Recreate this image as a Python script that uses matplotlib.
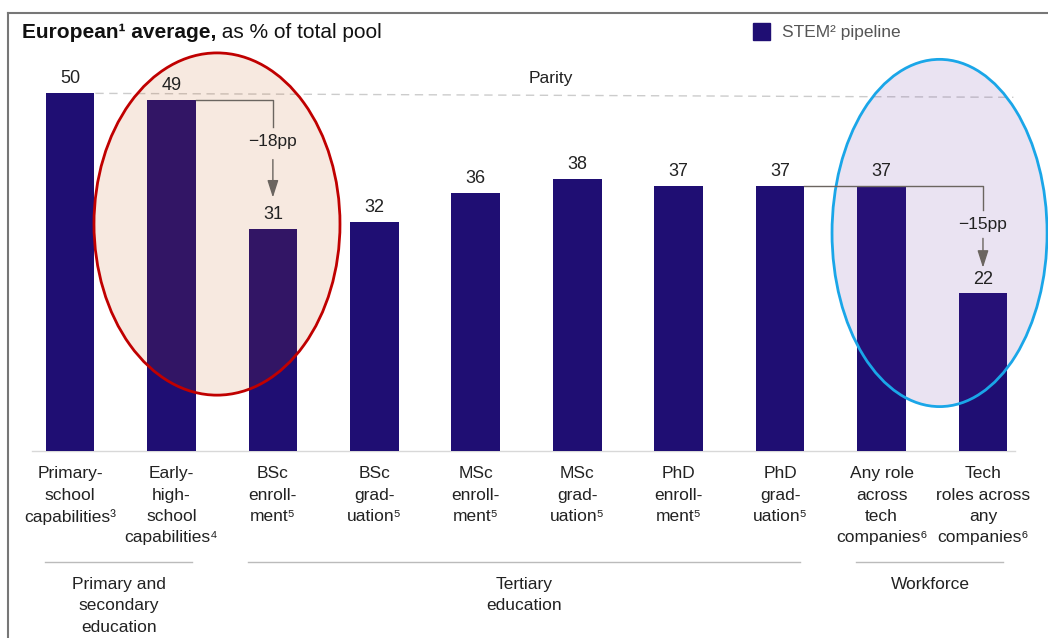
import matplotlib.pyplot as plt
from matplotlib.patches import Ellipse, Rectangle
from matplotlib.lines import Line2D

plt.rcParams['font.family'] = ['Liberation Sans', 'DejaVu Sans']

# Data
categories = [
    "Primary-\nschool\ncapabilities³",
    "Early-\nhigh-\nschool\ncapabilities⁴",
    "BSc\nenroll-\nment⁵",
    "BSc\ngrad-\nuation⁵",
    "MSc\nenroll-\nment⁵",
    "MSc\ngrad-\nuation⁵",
    "PhD\nenroll-\nment⁵",
    "PhD\ngrad-\nuation⁵",
    "Any role\nacross\ntech\ncompanies⁶",
    "Tech\nroles across\nany\ncompanies⁶",
]
values = [50, 49, 31, 32, 36, 38, 37, 37, 37, 22]
groups = ["Primary and\nsecondary\neducation", "Tertiary\neducation", "Workforce"]
group_spans = [(0, 1), (2, 7), (8, 9)]
parity = 50

bar_color = '#1f0e73'
text_color = '#222222'
grey = '#6b6560'

fig = plt.figure(figsize=(10.48, 6.38), dpi=100)
ax = fig.add_axes([0, 0, 1, 1])
ax.set_xlim(-0.690, 9.641)
ax.set_ylim(-26.12, 62.99)
ax.axis('off')

x = list(range(len(values)))
ax.bar(x, values, width=0.48, color=bar_color, zorder=2)

# baseline
ax.plot([-0.37, 9.32], [0, 0], color='#d8d8d8', lw=1, zorder=1)

# parity line
ax.plot([0.25, 9.3], [parity - 0.05, parity - 0.6], color='#cccccc', lw=1, ls=(0, (6, 4)), zorder=1)
ax.text(4.74, 52.0, "Parity", ha='center', va='center', fontsize=12.5, color=text_color)

# value labels
for xi, v in zip(x, values):
    ax.text(xi, v + 2.0, str(v), ha='center', va='center', fontsize=13, color=text_color, zorder=5)

# highlight ellipses
ax.add_patch(Ellipse((1.449, 31.7), 2.425, 47.8, facecolor=(0.75, 0.3, 0.0, 0.12),
                     edgecolor='#c00000', lw=2, zorder=3))
ax.add_patch(Ellipse((8.572, 30.45), 2.12, 48.5, facecolor=(0.35, 0.12, 0.59, 0.12),
                     edgecolor='#1aa6e8', lw=2, zorder=3))

# drop annotations
def drop(x0, x1, y_txt, label, gap_top, gap_tip):
    y0 = values[x0]
    ax.plot([x0 + 0.24, x1, x1], [y0, y0, y_txt + 2.0], color=grey, lw=1, zorder=4)
    ax.text(x1, y_txt, label, ha='center', va='center', fontsize=12.5, color=text_color, zorder=5)
    ax.annotate("", xy=(x1, values[x1] + gap_tip), xytext=(x1, y_txt - gap_top),
                arrowprops=dict(arrowstyle='-|>,head_length=0.75,head_width=0.24', color=grey,
                                lw=1, mutation_scale=14, shrinkA=0, shrinkB=0),
                zorder=5)

drop(1, 2, 43.2, "−18pp", 2.5, 4.4)
drop(7, 9, 31.6, "−15pp", 1.9, 3.6)

# category labels
for xi, c in zip(x, categories):
    ax.text(xi, -2.15, c, ha='center', va='top', fontsize=12.5, color=text_color,
            linespacing=1.53)

# group lines and labels
for (a, b), g in zip(group_spans, groups):
    ax.plot([a - 0.25, b + 0.2], [-15.5, -15.5], color='#bbbbbb', lw=1)
    ax.text((a + b) / 2 - 0.02, -17.6, g, ha='center', va='top', fontsize=12.5,
            color=text_color, linespacing=1.53)

# title
t1 = ax.text(-0.473, 58.4, "European¹ average,", fontsize=15, fontweight='bold',
             ha='left', va='center', color='#111111')
ax.annotate(" as % of total pool", xy=(1, 0), xycoords=t1, ha='left', va='bottom',
            fontsize=15, color='#111111')

# legend
ax.add_patch(Rectangle((6.733, 57.4), 0.168, 2.37, color=bar_color, zorder=5))
ax.text(7.019, 58.5, "STEM² pipeline", ha='left', va='center', fontsize=12.5, color='#555555')

# frame lines
fig.add_artist(Line2D([8 / 1048, 1], [1 - 13 / 638, 1 - 13 / 638], color='#777777', lw=1.5))
fig.add_artist(Line2D([8 / 1048, 8 / 1048], [0, 1 - 13 / 638], color='#777777', lw=1.5))

fig.savefig('out.png', dpi=100)
